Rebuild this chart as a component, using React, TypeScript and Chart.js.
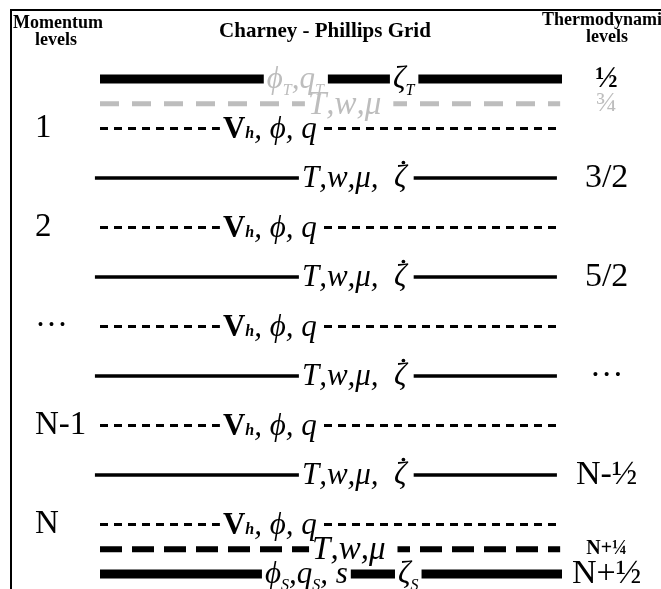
import React, { useEffect, useRef } from "react";
import { Chart, registerables } from "chart.js";

Chart.register(...registerables);

// ---------------- Data ----------------
const TITLE = "Charney - Phillips Grid";
const LEFT_HEADER = ["Momentum", "levels"];
const RIGHT_HEADER = ["Thermodynamic", "levels"];

// momentum (full) levels, shown on the left axis
const MOMENTUM_LEVELS = [1, 2, 3, 4, 5];
const MOMENTUM_LABELS = ["1", "2", "···", "N-1", "N"];

// thermodynamic (half) levels, shown on the right axis
const THERMO_LEVELS = [0.5, 0.75, 1.5, 2.5, 3.5, 4.5, 5.25, 5.5];
const THERMO_LABELS = ["½", "¾", "3/2", "5/2", "···", "N-½", "N+¼", "N+½"];

// every grid line of the diagram, top to bottom
const GRID_LEVELS = [0.5, 0.75, 1, 1.5, 2, 2.5, 3, 3.5, 4, 4.5, 5, 5.25, 5.5];
const GRID_KINDS = [
  "top", "topQuarter", "momentum", "thermo", "momentum", "thermo", "momentum",
  "thermo", "momentum", "thermo", "momentum", "bottomQuarter", "surface",
];
// variables carried on each line (markup: *x* bold upright, _x subscript, \u0307 dot above)
const GRID_VARIABLES = [
  ["ϕ_T,q_T", "ζ_T"],
  ["T,w,μ"],
  ["*V*_h, ϕ, q"],
  ["T,w,μ,  ζ\u0307"],
  ["*V*_h, ϕ, q"],
  ["T,w,μ,  ζ\u0307"],
  ["*V*_h, ϕ, q"],
  ["T,w,μ,  ζ\u0307"],
  ["*V*_h, ϕ, q"],
  ["T,w,μ,  ζ\u0307"],
  ["*V*_h, ϕ, q"],
  ["T,w,μ"],
  ["ϕ_S,q_S, s", "ζ_S"],
];

// ---------------- Styles / layout ----------------
const GREY = "#bdbdbd";
const INK = "#000000";
const SERIF = '"Liberation Serif", "DejaVu Serif", serif';

type KindStyle = {
  width: number; dash: number[]; color: string; start: number; end: number;
  labelX: number[]; labelColor: string[]; labelSize: number; padRight: number;
};
const KIND_STYLE: Record<string, KindStyle> = {
  top: { width: 9, dash: [], color: INK, start: 0, end: 1, labelX: [0.361, 0.634], labelColor: [GREY, INK], labelSize: 31, padRight: 4 },
  topQuarter: { width: 5, dash: [19, 13], color: GREY, start: 0, end: 0.996, labelX: [0.45], labelColor: [GREY], labelSize: 33, padRight: 12 },
  momentum: { width: 3, dash: [8, 6], color: INK, start: 0, end: 0.996, labelX: [0.266], labelColor: [INK], labelSize: 31, padRight: 6 },
  thermo: { width: 3.5, dash: [], color: INK, start: -0.011, end: 0.989, labelX: [0.437], labelColor: [INK], labelSize: 31, padRight: 7 },
  bottomQuarter: { width: 6, dash: [22, 10], color: INK, start: 0, end: 0.996, labelX: [0.459], labelColor: [INK], labelSize: 33, padRight: 12 },
  surface: { width: 9, dash: [], color: INK, start: 0, end: 1, labelX: [0.357, 0.645], labelColor: [INK, INK], labelSize: 31, padRight: 3 },
};

// ---------------- Rich text helpers ----------------
type Run = { text: string; bold: boolean; italic: boolean; sub: boolean; lowered: boolean; dot: boolean };

function parseRuns(s: string): Run[] {
  const runs: Run[] = [];
  let bold = false;
  for (let i = 0; i < s.length; i++) {
    const c = s[i];
    if (c === "*") { bold = !bold; continue; }
    if (c === "_") {
      const n = s[++i];
      const prevBold = runs.length > 0 && runs[runs.length - 1].bold;
      runs.push({ text: n, bold: prevBold, italic: true, sub: true, lowered: !prevBold, dot: false });
      continue;
    }
    if (c === "\u0307") { if (runs.length) runs[runs.length - 1].dot = true; continue; }
    runs.push({ text: c, bold, italic: !bold, sub: false, lowered: false, dot: false });
  }
  return runs;
}

function runFont(r: Run, size: number) {
  const s = r.sub ? Math.round(size * 0.52) : size;
  return `${r.italic ? "italic " : ""}${r.bold ? "bold " : ""}${s}px ${SERIF}`;
}

function measureRuns(ctx: CanvasRenderingContext2D, runs: Run[], size: number) {
  let w = 0;
  for (const r of runs) { ctx.font = runFont(r, size); w += ctx.measureText(r.text).width; }
  return w;
}

function drawRuns(ctx: CanvasRenderingContext2D, runs: Run[], x: number, baseline: number, size: number, color: string) {
  ctx.fillStyle = color;
  ctx.textAlign = "left";
  ctx.textBaseline = "alphabetic";
  let cx = x;
  for (const r of runs) {
    ctx.font = runFont(r, size);
    const w = ctx.measureText(r.text).width;
    const y = baseline + (r.lowered ? size * 0.22 : 0);
    ctx.fillText(r.text, cx, y);
    if (r.dot) {
      ctx.beginPath();
      ctx.arc(cx + w / 2 + 3, baseline - size * 0.8, size * 0.06, 0, Math.PI * 2);
      ctx.fill();
    }
    cx += w;
  }
}

// ---------------- Plugins ----------------
const variablesPlugin = {
  id: "gridVariables",
  afterDatasetsDraw(chart: any) {
    const { ctx } = chart;
    const xs = chart.scales.x;
    const ys = chart.scales.y;
    const items: { runs: Run[]; x: number; y: number; w: number; color: string; size: number; pad: number }[] = [];
    GRID_LEVELS.forEach((lvl, r) => {
      const st = KIND_STYLE[GRID_KINDS[r]];
      const y = ys.getPixelForValue(lvl);
      GRID_VARIABLES[r].forEach((txt, k) => {
        const runs = parseRuns(txt);
        const x = xs.getPixelForValue(st.labelX[k]);
        const w = measureRuns(ctx, runs, st.labelSize);
        items.push({ runs, x, y, w, color: st.labelColor[k], size: st.labelSize, pad: st.padRight });
      });
    });
    ctx.save();
    ctx.fillStyle = "#ffffff";
    for (const it of items) ctx.fillRect(it.x - 3, it.y - 7, it.w + 3 + it.pad, 14);
    for (const it of items) drawRuns(ctx, it.runs, it.x, it.y + it.size * 0.3, it.size, it.color);
    ctx.restore();
  },
  afterDraw(chart: any) {
    const { ctx } = chart;
    ctx.save();
    // frame
    ctx.fillStyle = INK;
    ctx.fillRect(10, 9, chart.width - 10, 2);
    ctx.fillRect(10, 9, 2, chart.height - 9);
    // headers
    ctx.textBaseline = "alphabetic";
    ctx.font = `bold 18px ${SERIF}`;
    ctx.textAlign = "center";
    ctx.fillText(LEFT_HEADER[0], 58, 28);
    ctx.fillText(LEFT_HEADER[1], 56, 45);
    ctx.textAlign = "left";
    ctx.fillText(RIGHT_HEADER[0], 542, 25);
    ctx.textAlign = "center";
    ctx.fillText(RIGHT_HEADER[1], 607, 42);
    ctx.font = `bold 21px ${SERIF}`;
    ctx.fillText(TITLE, 325, 37);
    ctx.restore();
  },
};

// ---------------- Component ----------------
export default function App() {
  const canvasRef = useRef<HTMLCanvasElement | null>(null);

  useEffect(() => {
    const canvas = canvasRef.current;
    if (!canvas) return;

    const datasets = GRID_LEVELS.map((lvl, i) => {
      const st = KIND_STYLE[GRID_KINDS[i]];
      return {
        data: [{ x: st.start, y: lvl }, { x: st.end, y: lvl }],
        showLine: true,
        borderColor: st.color,
        backgroundColor: st.color,
        borderWidth: st.width,
        borderDash: st.dash,
        borderCapStyle: "butt" as const,
        pointRadius: 0,
        clip: false as any,
        yAxisID: "y",
      };
    });

    const commonY = {
      type: "linear" as const,
      reverse: true,
      min: -0.298,
      max: 5.6515,
      grid: { display: false, drawTicks: false },
      border: { display: false },
    };

    const chart = new Chart(canvas, {
      type: "scatter",
      data: { datasets },
      plugins: [variablesPlugin],
      options: {
        animation: false,
        responsive: false,
        maintainAspectRatio: false,
        events: [],
        layout: { padding: { left: 35, right: 0, top: 0, bottom: 0 } },
        plugins: { legend: { display: false }, tooltip: { enabled: false }, title: { display: false } },
        scales: {
          x: { type: "linear", min: 0, max: 1, display: false },
          y: {
            ...commonY,
            position: "left",
            afterBuildTicks: (axis: any) => { axis.ticks = MOMENTUM_LEVELS.map((v) => ({ value: v })); },
            afterFit: (axis: any) => { axis.width = 65; axis.paddingTop = 0; axis.paddingBottom = 0; },
            ticks: {
              autoSkip: false,
              crossAlign: "far",
              padding: 0,
              color: INK,
              font: { family: SERIF, size: 33 },
              callback: (v: any) => MOMENTUM_LABELS[MOMENTUM_LEVELS.indexOf(Number(v))],
            },
          },
          y2: {
            ...commonY,
            position: "right",
            afterBuildTicks: (axis: any) => { axis.ticks = THERMO_LEVELS.map((v) => ({ value: v })); },
            afterFit: (axis: any) => { axis.width = 99; axis.paddingTop = 0; axis.paddingBottom = 0; },
            ticks: {
              autoSkip: false,
              crossAlign: "center",
              padding: 10,
              color: (c: any) => (c.index === 1 ? GREY : INK),
              font: (c: any) => {
                if (c.index === 0) return { family: SERIF, size: 30, weight: "bold" };
                if (c.index === 1) return { family: SERIF, size: 28 };
                if (c.index === 6) return { family: SERIF, size: 20, weight: "bold" };
                return { family: SERIF, size: 34 };
              },
              callback: (v: any) => THERMO_LABELS[THERMO_LEVELS.indexOf(Number(v))],
            },
          },
        },
      } as any,
    });

    return () => chart.destroy();
  }, []);

  return (
    <div style={{ position: "absolute", left: 0, top: 0, width: 661, height: 589, background: "#ffffff" }}>
      <canvas ref={canvasRef} width={661} height={589} style={{ display: "block", width: 661, height: 589 }} />
    </div>
  );
}
